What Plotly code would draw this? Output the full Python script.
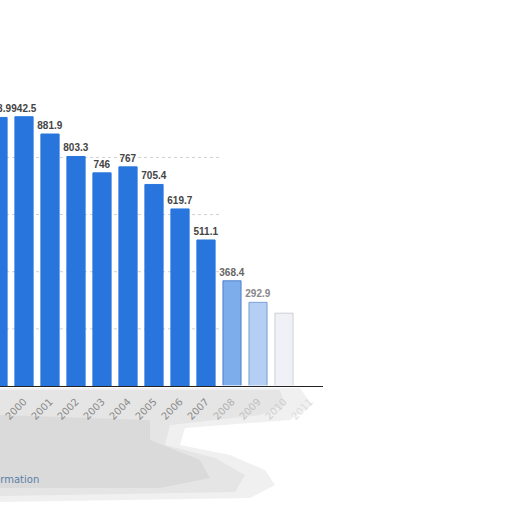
import plotly.graph_objects as go

# yearly values (left edge of the original is cut off)
years = ["1999", "2000", "2001", "2002", "2003", "2004", "2005",
         "2006", "2007", "2008", "2009", "2010", "2011"]
values = [940.0, 942.5, 881.9, 803.3, 746, 767, 705.4,
          619.7, 511.1, 368.4, 292.9, 255.0, None]
labels = ["", "942.5", "881.9", "803.3", "746", "767", "705.4",
          "619.7", "511.1", "368.4", "292.9", "", ""]
first_label = "938.9"
grid_values = [200, 400, 600, 800]

# the right end of the chart fades out
bar_colors = ["#2876dd"] * 9 + ["rgba(40,118,221,0.6)", "rgba(40,118,221,0.35)",
                                "rgba(235,238,244,0.8)", "rgba(255,255,255,0)"]
line_colors = ["#2876dd"] * 9 + ["rgba(40,100,190,0.7)", "rgba(40,100,190,0.5)",
                                 "rgba(150,150,160,0.4)", "rgba(255,255,255,0)"]
tick_colors = ["#8a8a8a"] * 9 + ["#b0b0b0", "#c0c0c0", "#cfcfcf", "#dddddd"]
text_colors = ["#444"] * 9 + ["#666", "#888", "#ccc", "#ccc"]

W, H = 512, 512
L, R, T, B = 0, 189, 86, 126
PW, PH = W - L - R, H - T - B


def px(x, y):
    # page pixel -> paper coordinates
    return (x - L) / PW, (H - B - y) / PH


def path_of(points):
    return "M " + " L ".join(f"{a:.4f},{b:.4f}" for a, b in (px(x, y) for x, y in points)) + " Z"


# grey smudge under the axis, built from a few soft layers
smudges = [
    ([(0, 388), (300, 388), (312, 405), (290, 420), (185, 428), (180, 445),
      (230, 455), (265, 470), (275, 485), (250, 498), (0, 502)], "rgba(185,185,185,0.22)"),
    ([(0, 390), (280, 390), (285, 405), (260, 415), (170, 425), (165, 445),
      (215, 458), (245, 475), (235, 492), (0, 496)], "rgba(185,185,185,0.2)"),
    ([(0, 415), (150, 420), (150, 440), (200, 460), (210, 478), (160, 488), (0, 488)],
     "rgba(170,170,170,0.18)"),
]

shapes = [dict(type="path", path=path_of(p), xref="paper", yref="paper",
               fillcolor=c, line=dict(width=0), layer="below") for p, c in smudges]
# gridlines and axis line fade out towards the right
for g in grid_values:
    shapes.append(dict(type="line", xref="paper", yref="y", x0=0, x1=px(222, 0)[0],
                       y0=g, y1=g, line=dict(color="#d0d0d0", width=1, dash="dot"),
                       layer="below"))
shapes.append(dict(type="line", xref="paper", yref="y", x0=px(218, 0)[0], x1=1.01,
                   y0=0, y1=0, line=dict(color="rgba(255,255,255,0.7)", width=2)))

fig = go.Figure()
fig.add_trace(go.Bar(
    x=list(range(len(years))),
    y=values,
    marker=dict(color=bar_colors, line=dict(color=line_colors, width=1)),
    width=0.7,
    text=labels,
    textposition="outside",
    textangle=0,
    constraintext="none",
    textfont=dict(family="Liberation Sans", size=10, color=text_colors, weight="bold"),
    cliponaxis=False,
    hoverinfo="skip",
))

fig.update_layout(
    width=W, height=H,
    margin=dict(l=L, r=R, t=T, b=B),
    plot_bgcolor="white", paper_bgcolor="white",
    showlegend=False,
    xaxis=dict(
        range=[0.077, 12.5],
        automargin=False,
        tickmode="array",
        tickvals=list(range(len(years))),
        ticktext=[f"<span style='color:{c}'>{y}</span>" for y, c in zip(years, tick_colors)],
        tickangle=-45,
        tickfont=dict(family="DejaVu Sans", size=10, color="#8a8a8a"),
        ticklabelstandoff=5,
        showline=True, linecolor="#222", linewidth=1,
        showgrid=False, ticks="",
    ),
    yaxis=dict(
        range=[0, 1050],
        automargin=False,
        showticklabels=False,
        showgrid=False,
        zeroline=False,
    ),
    shapes=shapes,
    annotations=[
        dict(text="<b>" + first_label + "</b>", x=px(-2, 0)[0], y=values[0],
             xref="paper", yref="y",
             xanchor="center", yanchor="bottom", yshift=1, showarrow=False,
             font=dict(family="Liberation Sans", size=10, color="#444")),
        dict(text="Additional Information", xref="paper", yref="paper",
             x=px(41, 0)[0], y=px(0, 479)[1], xanchor="right", yanchor="middle",
             showarrow=False, font=dict(family="DejaVu Sans", size=10, color="#5b7fa6")),
    ],
)

# page body has a default 8px margin; drop it so the chart sits at the corner
fig.write_html("out.html", config={"displayModeBar": False},
               post_script="document.body.style.margin = '0';")
